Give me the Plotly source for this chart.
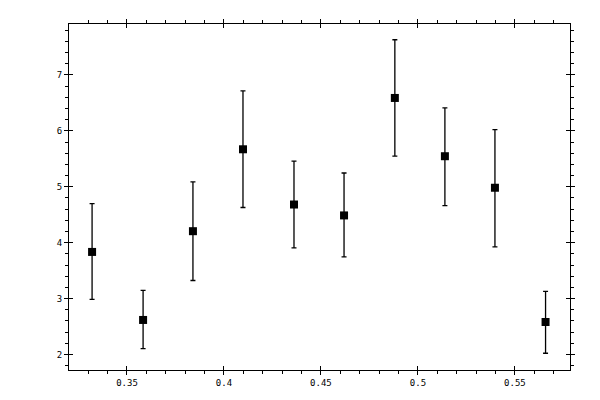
import plotly.graph_objects as go

x_vals = [0.3320, 0.3583, 0.3840, 0.4098, 0.4361, 0.4619, 0.4881, 0.5139, 0.5397, 0.5658]
y_vals = [3.835, 2.618, 4.206, 5.671, 4.683, 4.488, 6.589, 5.547, 4.983, 2.582]
err_plus = [0.865, 0.529, 0.883, 1.046, 0.776, 0.759, 1.041, 0.865, 1.041, 0.548]
err_minus = [0.847, 0.512, 0.882, 1.041, 0.777, 0.741, 1.042, 0.882, 1.059, 0.559]

x_tickvals = [0.35, 0.4, 0.45, 0.5, 0.55]
x_ticktext = ["0.35", "0.4", "0.45", "0.5", "0.55"]
y_tickvals = [2, 3, 4, 5, 6, 7]
y_ticktext = ["2", "3", "4", "5", "6", "7"]

x_range = [0.3201, 0.5784]
y_range = [1.723, 7.912]

tick_font = dict(family="DejaVu Sans Mono", size=9, color="black")

fig = go.Figure()

fig.add_trace(go.Scatter(
    x=x_vals, y=y_vals, mode="markers",
    marker=dict(symbol="square", size=8, color="black"),
    error_y=dict(type="data", symmetric=False, array=err_plus, arrayminus=err_minus,
                 color="black", thickness=1.3, width=2.5),
    showlegend=False, hoverinfo="x+y",
))

# invisible trace so the overlay axes (inner half of the major ticks) get drawn
fig.add_trace(go.Scatter(
    x=[x_vals[0]], y=[y_vals[0]], xaxis="x2", yaxis="y2", mode="markers",
    marker=dict(opacity=0), showlegend=False, hoverinfo="skip",
))

# the page puts an 8px body margin around the figure, so margins are shifted
fig.update_layout(
    width=600, height=400,
    margin=dict(l=61, r=38, t=11, b=38),
    paper_bgcolor="white", plot_bgcolor="white",
    xaxis=dict(
        range=x_range, showgrid=False, zeroline=False,
        showline=True, linecolor="black", linewidth=1, mirror="allticks",
        ticks="outside", ticklen=4, tickwidth=1, tickcolor="black",
        tickmode="array", tickvals=x_tickvals, ticktext=x_ticktext,
        tickfont=tick_font,
        minor=dict(ticks="outside", ticklen=3, tickwidth=1, tickcolor="black",
                   dtick=0.01, tick0=0, showgrid=False),
    ),
    yaxis=dict(
        range=y_range, showgrid=False, zeroline=False,
        showline=True, linecolor="black", linewidth=1, mirror="allticks",
        ticks="outside", ticklen=4, tickwidth=1, tickcolor="black",
        tickmode="array", tickvals=y_tickvals, ticktext=y_ticktext,
        tickfont=tick_font,
        minor=dict(ticks="outside", ticklen=3, tickwidth=1, tickcolor="black",
                   dtick=0.2, tick0=0, showgrid=False),
    ),
    xaxis2=dict(
        overlaying="x", matches="x", anchor="y2", side="bottom",
        showgrid=False, zeroline=False, showline=False, mirror="ticks",
        ticks="inside", ticklen=4, tickwidth=1, tickcolor="black",
        tickmode="array", tickvals=x_tickvals, showticklabels=False,
    ),
    yaxis2=dict(
        overlaying="y", matches="y", anchor="x2", side="left",
        showgrid=False, zeroline=False, showline=False, mirror="ticks",
        ticks="inside", ticklen=4, tickwidth=1, tickcolor="black",
        tickmode="array", tickvals=y_tickvals, showticklabels=False,
    ),
)

fig.write_html("out.html")
